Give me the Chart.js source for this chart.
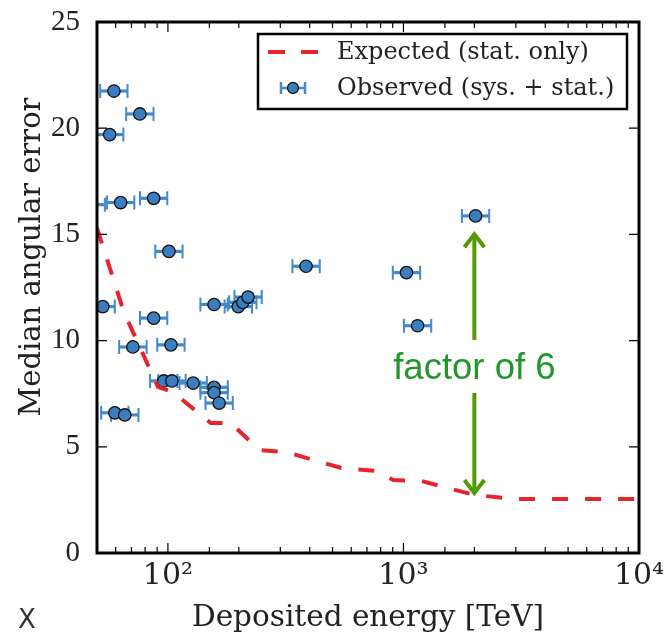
<!DOCTYPE html>
<html>
<head>
<meta charset="utf-8">
<script src="https://cdn.jsdelivr.net/npm/chart.js@4.4.1/dist/chart.umd.min.js"></script>
<style>
  html, body { margin: 0; padding: 0; background: #fff; }
</style>
</head>
<body>
<canvas id="myChart" width="666" height="637"></canvas>
<script>
// expected resolution (stat. only) - dashed red curve
const expectedEnergy = [50, 65, 90.7, 105, 152, 185, 244, 318, 545, 767, 906, 1193, 2005, 3027, 10000];
const expectedError  = [15.3, 11.35, 7.82, 7.58, 6.12, 6.12, 4.85, 4.75, 4.0, 3.86, 3.44, 3.39, 2.73, 2.54, 2.54];

// observed events (sys. + stat.), first one sits just left of the axis
const observedEnergy = [47.3, 59, 76, 56.6, 63, 87, 101, 52.9, 87, 71, 103, 96, 104, 128, 157, 157, 165, 59.5, 65.6, 157, 199, 208, 219, 386, 1030, 1148, 2024];
const observedError  = [16.4, 21.75, 20.67, 19.7, 16.5, 16.7, 14.2, 11.6, 11.06, 9.7, 9.8, 8.1, 8.1, 8.0, 7.8, 7.55, 7.06, 6.6, 6.5, 11.7, 11.6, 11.8, 12.05, 13.5, 13.2, 10.7, 15.87];
const energyLow      = [41.4, 51.6, 66.5, 49.5, 55.1, 76.1, 88.4, 46.3, 76.1, 62.1, 90.1, 84, 91, 112, 137.4, 137.4, 144.4, 52.1, 57.4, 137.4, 174.1, 182, 191.6, 337.8, 901, 1004.5, 1771];
const energyHigh     = [54, 67.4, 86.9, 64.7, 72, 99.4, 115.4, 59.5, 99.4, 81.2, 117.7, 109.7, 118.9, 146.3, 179.5, 179.5, 188.6, 68, 75, 179.5, 227.5, 237.7, 250.3, 441.2, 1177, 1312, 2313];

// tick labels
const xTickLabels = {100: '10²', 1000: '10³', 10000: '10⁴'};
const yTicks = [0, 5, 10, 15, 20, 25];

// "factor of 6" arrow
const arrowEnergy = 2000;
const arrowTop = 15.1;
const arrowBottom = 2.73;
const arrowGap = [7.53, 10.03];  // shaft is broken here for the text

const red = '#e8232b';
const blueFill = '#3a7ebf';
const blueBar = '#4489cb';

const errorBars = {
    id: 'errorBars',
    beforeDatasetsDraw(chart) {
        const {ctx, chartArea: a, scales: {x, y}} = chart;
        ctx.save();
        ctx.beginPath();
        ctx.rect(a.left, a.top, a.right - a.left, a.bottom - a.top);
        ctx.clip();
        ctx.strokeStyle = blueBar;
        observedEnergy.forEach((e, i) => {
            const py = y.getPixelForValue(observedError[i]);
            const x0 = x.getPixelForValue(energyLow[i]);
            const x1 = x.getPixelForValue(energyHigh[i]);
            ctx.lineWidth = 3.2;
            ctx.beginPath();
            ctx.moveTo(x0, py); ctx.lineTo(x1, py);
            ctx.stroke();
            ctx.lineWidth = 2;
            ctx.beginPath();
            ctx.moveTo(x0, py - 7); ctx.lineTo(x0, py + 7);
            ctx.moveTo(x1, py - 7); ctx.lineTo(x1, py + 7);
            ctx.stroke();
        });
        ctx.restore();
    }
};

const frame = {
    id: 'frame',
    afterDraw(chart) {
        const {ctx, chartArea: a, scales: {x, y}} = chart;
        ctx.save();
        ctx.strokeStyle = '#000';
        ctx.lineWidth = 1.2;
        ctx.beginPath();
        x.ticks.forEach(t => {
            const px = x.getPixelForValue(t.value);
            const lg = Math.log10(t.value);
            const len = Math.abs(lg - Math.round(lg)) < 1e-6 ? 10 : 6;
            ctx.moveTo(px, a.bottom); ctx.lineTo(px, a.bottom - len);
            ctx.moveTo(px, a.top); ctx.lineTo(px, a.top + len);
        });
        y.ticks.forEach(t => {
            const py = y.getPixelForValue(t.value);
            ctx.moveTo(a.left, py); ctx.lineTo(a.left + 10, py);
            ctx.moveTo(a.right, py); ctx.lineTo(a.right - 10, py);
        });
        ctx.stroke();
        ctx.lineWidth = 3;
        ctx.strokeRect(a.left, a.top, a.right - a.left, a.bottom - a.top);

        // y axis title (sits a bit above the axis centre in the original)
        ctx.fillStyle = '#222';
        ctx.font = '29px "DejaVu Serif"';
        ctx.textAlign = 'center';
        ctx.textBaseline = 'middle';
        ctx.translate(32, 257);
        ctx.rotate(-Math.PI / 2);
        ctx.fillText('Median angular error', 0, 0);
        ctx.setTransform(1, 0, 0, 1, 0, 0);

        // stray X under the axis
        ctx.fillStyle = '#333';
        ctx.font = '26px "DejaVu Sans"';
        ctx.fillText('X', 27, 621);
        ctx.restore();
    }
};

const legendBox = {
    id: 'legendBox',
    afterDraw(chart) {
        const {ctx, chartArea: a} = chart;
        const left = a.right - 381, top = a.top + 12, w = 369, h = 75;
        ctx.save();
        ctx.fillStyle = '#fff';
        ctx.fillRect(left, top, w, h);
        ctx.strokeStyle = '#000';
        ctx.lineWidth = 2.5;
        ctx.strokeRect(left, top, w, h);

        const y1 = top + 18, y2 = top + 54;
        ctx.strokeStyle = red;
        ctx.lineWidth = 4;
        ctx.setLineDash([17, 16]);
        ctx.beginPath();
        ctx.moveTo(left + 10, y1); ctx.lineTo(left + 60, y1);
        ctx.stroke();
        ctx.setLineDash([]);

        const mx = left + 35;
        ctx.strokeStyle = blueBar;
        ctx.lineWidth = 2.5;
        ctx.beginPath();
        ctx.moveTo(mx - 12, y2); ctx.lineTo(mx + 12, y2);
        ctx.moveTo(mx - 12, y2 - 6); ctx.lineTo(mx - 12, y2 + 6);
        ctx.moveTo(mx + 12, y2 - 6); ctx.lineTo(mx + 12, y2 + 6);
        ctx.stroke();
        ctx.fillStyle = blueFill;
        ctx.strokeStyle = '#111';
        ctx.lineWidth = 1.3;
        ctx.beginPath();
        ctx.arc(mx, y2, 5.5, 0, Math.PI * 2);
        ctx.fill();
        ctx.stroke();

        ctx.fillStyle = '#222';
        ctx.font = '24px "DejaVu Serif"';
        ctx.textAlign = 'left';
        ctx.textBaseline = 'middle';
        ctx.fillText('Expected (stat. only)', left + 79, y1 + 1);
        ctx.fillText('Observed (sys. + stat.)', left + 79, y2 + 1);
        ctx.restore();
    }
};

const factorArrow = {
    id: 'factorArrow',
    afterDatasetsDraw(chart) {
        const {ctx, scales: {x, y}} = chart;
        const px = x.getPixelForValue(arrowEnergy);
        const yTop = y.getPixelForValue(arrowTop);
        const yBot = y.getPixelForValue(arrowBottom);
        const gapLo = y.getPixelForValue(arrowGap[0]);
        const gapHi = y.getPixelForValue(arrowGap[1]);
        ctx.save();
        ctx.strokeStyle = '#559a00';
        ctx.lineWidth = 4;
        ctx.lineCap = 'butt';
        ctx.beginPath();
        ctx.moveTo(px, yTop + 2); ctx.lineTo(px, gapHi);
        ctx.moveTo(px, gapLo); ctx.lineTo(px, yBot - 2);
        ctx.stroke();
        ctx.lineJoin = 'miter';
        ctx.beginPath();
        ctx.moveTo(px - 10, yTop + 15); ctx.lineTo(px, yTop + 2); ctx.lineTo(px + 10, yTop + 15);
        ctx.moveTo(px - 10, yBot - 15); ctx.lineTo(px, yBot - 2); ctx.lineTo(px + 10, yBot - 15);
        ctx.stroke();

        ctx.fillStyle = '#22962a';
        ctx.font = '36.5px "Liberation Sans"';
        ctx.textAlign = 'center';
        ctx.textBaseline = 'middle';
        ctx.fillText('factor of 6', px, (gapLo + gapHi) / 2 + 2);
        ctx.restore();
    }
};

const ctx = document.getElementById('myChart').getContext('2d');

const myChart = new Chart(ctx, {
    type: 'scatter',
    data: {
        datasets: [{
            label: 'Expected (stat. only)',
            data: expectedEnergy.map((e, i) => ({x: e, y: expectedError[i]})),
            showLine: true,
            borderColor: red,
            borderWidth: 4,
            borderDash: [16, 17],
            pointRadius: 0,
            tension: 0
        }, {
            label: 'Observed (sys. + stat.)',
            data: observedEnergy.map((e, i) => ({x: e, y: observedError[i]})),
            backgroundColor: blueFill,
            borderColor: '#111',
            borderWidth: 1.3,
            pointRadius: 6.2,
            clip: 0
        }]
    },
    options: {
        responsive: false,
        animation: false,
        layout: { padding: { top: 22, right: 27, left: 0, bottom: 0 } },
        plugins: {
            legend: { display: false },
            tooltip: { enabled: false }
        },
        scales: {
            x: {
                type: 'logarithmic',
                min: 50,
                max: 10000,
                grid: { display: false, drawTicks: false },
                border: { display: false },
                afterFit: s => { s.height = 84; s.paddingLeft = 0; s.paddingRight = 0; },
                ticks: {
                    autoSkip: false,
                    maxRotation: 0,
                    padding: 5,
                    color: '#222',
                    font: { family: 'DejaVu Serif', size: 30 },
                    callback: v => xTickLabels[v] || ''
                },
                title: {
                    display: true,
                    text: 'Deposited energy [TeV]',
                    color: '#222',
                    font: { family: 'DejaVu Serif', size: 29.5 },
                    padding: { top: 0, bottom: 1 }
                }
            },
            y: {
                min: 0,
                max: 25,
                grid: { display: false, drawTicks: false },
                border: { display: false },
                afterFit: s => { s.width = 97; s.paddingTop = 0; s.paddingBottom = 0; },
                afterBuildTicks: s => { s.ticks = yTicks.map(v => ({value: v})); },
                ticks: {
                    padding: 17,
                    color: '#222',
                    font: { family: 'Liberation Serif', size: 29 }
                },
                title: { display: false }
            }
        }
    },
    plugins: [errorBars, factorArrow, frame, legendBox]
});
</script>
</body>
</html>
